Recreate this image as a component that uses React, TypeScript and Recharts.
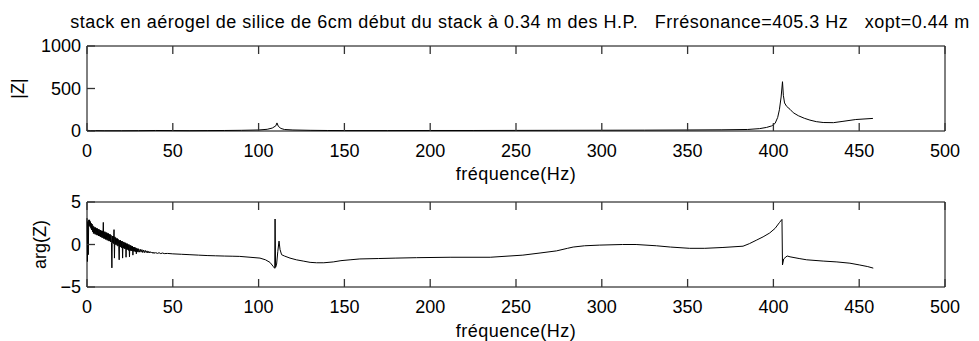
import React from "react";
import { LineChart, Line, XAxis, YAxis } from "recharts";

const titleText =
  "stack en aérogel de silice de 6cm début du stack à 0.34 m des H.P.   Frrésonance=405.3 Hz   xopt=0.44 m";
const xLabel = "fréquence(Hz)";
const magLabel = "|Z|";
const phaseLabel = "arg(Z)";

const freqTicks = [0, 50, 100, 150, 200, 250, 300, 350, 400, 450, 500];
const magTicks = [0, 500, 1000];
const phaseTicks = [-5, 0, 5];

const magFreq = [
  0, 2, 5, 10, 20, 30, 40, 50, 60, 70, 80, 90, 100, 105, 108, 110, 110.7, 111.5, 113, 115,
  120, 130, 140, 150, 175, 200, 225, 250, 275, 300, 325, 350, 370, 385, 392, 396, 399, 401,
  402.5, 403.5, 404.5, 405.3, 405.8, 406.5, 407.7, 409.7, 411.6, 414.5, 418, 421.3, 425, 429,
  435, 440, 448, 458,
];
const magValues = [
  8, 5, 4, 3, 3, 4, 6, 5, 4, 5, 6, 8, 12, 20, 35, 60, 95, 55, 30, 18,
  12, 8, 6, 5, 5, 6, 6, 7, 8, 9, 10, 12, 14, 18, 28, 42, 60, 90,
  160, 250, 400, 580, 420, 330, 290, 255, 215, 180, 150, 128, 110, 100,
  98, 112, 135, 148,
];

const phaseFreq = [
  0, 0.25, 0.5, 0.75, 1.0, 1.25, 1.5, 1.75, 2.0, 2.25, 2.5, 2.75, 3.0, 3.25, 3.5, 3.75,
  4.0, 4.25, 4.5, 4.75, 5.0, 5.25, 5.5, 5.75, 6.0, 6.25, 6.5, 6.75, 7.0, 7.25, 7.5, 7.75,
  8.0, 8.25, 8.5, 8.75, 9.0, 9.25, 9.5, 9.75, 10.0, 10.25, 10.5, 10.75, 11.0, 11.25, 11.5, 11.75,
  12.0, 12.25, 12.5, 12.75, 13.0, 13.25, 13.5, 13.75, 14.0, 14.25, 14.5, 14.75, 15.0, 15.25, 15.5, 15.75,
  16.0, 16.25, 16.5, 16.75, 17.0, 17.25, 17.5, 17.75, 18.0, 18.25, 18.5, 18.75, 19.0, 19.25, 19.5, 19.75,
  20.0, 20.25, 20.5, 20.75, 21.0, 21.25, 21.5, 21.75, 22.0, 22.25, 22.5, 22.75, 23.0, 23.25, 23.5, 23.75,
  24.0, 24.25, 24.5, 24.75, 25.0, 25.25, 25.5, 25.75, 26.0, 26.25, 26.5, 26.75, 27.0, 27.25, 27.5, 27.75,
  28.0, 28.25, 28.5, 28.75, 29.0, 29.25, 29.5, 29.75, 30.0, 30.5, 31.0, 31.5, 32.0, 32.5, 33.0, 33.5,
  34.0, 34.5, 35.0, 35.5, 36.0, 36.5, 37.0, 37.5, 38.0, 38.5, 39.0, 39.5, 40.0, 41, 42, 43,
  44, 45, 47, 50, 55, 60, 65, 70, 75, 80, 85, 89, 95, 100.8,
  104, 106.6, 108.6, 109.4, 109.6, 109.9, 110.5, 111.2, 111.9, 112.5, 113.4, 115, 118.3, 122,
  126, 130, 133.8, 138, 143.5, 148, 153.3, 159, 170, 180, 192, 211.6, 235, 254, 264, 273.6,
  280, 283.3, 290, 298.8, 312, 320, 331.8, 340, 351.2, 360, 370.6, 382.3, 386, 390, 394,
  397.8, 401, 403.6, 405, 405.3, 406, 406.8, 408, 409.7, 415, 419.4, 429, 437, 444.6, 450,
  455, 458.2,
];
const phaseValues = [
  3.1, -2.0, 2.7, -1.2, 2.9, 2.2, 2.9, 2.1, 2.7, 1.9, 2.5, 1.7, 2.4, 1.5, 2.2, 1.3,
  2.1, 1.3, 2.0, 1.2, 2.0, 1.2, 1.9, 1.1, 1.9, 1.1, 1.8, 1.0, 1.8, 1.0, 1.7, 0.9,
  1.7, 0.9, 1.6, 0.8, 1.6, 0.8, 2.6, 0.7, 1.5, 0.7, 1.5, 0.6, 1.4, 0.6, 1.4, 0.5,
  1.3, 0.5, 1.3, 0.4, 1.2, 0.4, 1.2, 0.3, 1.1, 0.2, -2.75, 1.0, 0.2, 1.0, 0.1, 1.75,
  -1.6, 0.9, 0.0, 0.8, 0.0, 0.7, -0.1, 0.7, -0.2, 0.6, -0.2, -1.8, 0.5, -0.3, 0.5, -0.3,
  0.4, -0.4, 0.4, -1.6, 0.3, -0.4, 0.3, -0.5, 0.2, -0.5, 0.2, -1.5, 0.1, -0.6, 0.1, -0.6,
  0.0, -0.7, 0.0, -1.45, -0.1, -0.7, -0.1, -0.75, -0.2, -0.75, -0.2, -1.25, -0.3, -0.8, -0.3, -0.8,
  -0.35, -0.85, -0.4, -1.1, -0.45, -0.85, -0.5, -0.9, -0.5, -0.9, -0.55, -0.9, -0.6, -0.95, -0.65, -0.95,
  -0.7, -0.95, -0.75, -1.0, -0.8, -1.0, -0.85, -1.0, -0.9, -1.05, -0.9, -1.05, -0.95, -1.05, -0.97, -1.07,
  -1.0, -1.07, -1.05, -1.1, -1.15, -1.2, -1.25, -1.3, -1.33, -1.36, -1.38, -1.4, -1.5, -1.6,
  -1.8, -2.1, -2.6, -2.8, 3.0, -2.7, -2.3, -0.8, 0.4, -0.6, -1.2, -1.35, -1.6, -1.8,
  -1.95, -2.1, -2.15, -2.15, -2.05, -1.9, -1.8, -1.7, -1.65, -1.6, -1.55, -1.5, -1.5, -1.25, -1.0, -0.75,
  -0.45, -0.3, -0.15, -0.07, 0.0, 0.0, -0.15, -0.3, -0.45, -0.45, -0.35, -0.2, 0.1, 0.5, 0.9,
  1.35, 1.9, 2.6, 2.95, -2.4, -1.7, -1.55, -1.35, -1.45, -1.65, -1.8, -1.95, -2.05, -2.2, -2.4,
  -2.6, -2.78,
];

const magData = magFreq.map((f, i) => ({ f, v: magValues[i] }));
const phaseData = phaseFreq.map((f, i) => ({ f, v: phaseValues[i] }));

const FONT = "'Liberation Sans', Arial, Helvetica, sans-serif";
const TICK_LEN = 8;
const X_MARGIN = 13;
const Y_MARGIN = 6;
const TICK_COLOR = "#333";
const TICK_WIDTH = 1.3;

function BottomTick(props: any) {
  const { x, y, payload } = props;
  const ay = y - X_MARGIN;
  return (
    <g>
      <path d={`M${x},${ay}V${ay - TICK_LEN}`} stroke={TICK_COLOR} strokeWidth={TICK_WIDTH} fill="none" />
      <text x={x} y={y} dy="0.72em" textAnchor="middle" fontSize={18} fontFamily={FONT} fill="#000">
        {payload.value}
      </text>
    </g>
  );
}

function TopTick(props: any) {
  const { x, y } = props;
  return <path d={`M${x},${y}V${y + TICK_LEN}`} stroke={TICK_COLOR} strokeWidth={TICK_WIDTH} fill="none" />;
}

function LeftTick(props: any) {
  const { x, y, payload } = props;
  const ax = x + Y_MARGIN;
  return (
    <g>
      <path d={`M${ax},${y}H${ax + TICK_LEN}`} stroke={TICK_COLOR} strokeWidth={TICK_WIDTH} fill="none" />
      <text x={x} y={y} dy="0.36em" textAnchor="end" fontSize={18} fontFamily={FONT} fill="#000">
        {payload.value < 0 ? "\u2212" + Math.abs(payload.value) : String(payload.value)}
      </text>
    </g>
  );
}

function RightTick(props: any) {
  const { x, y } = props;
  return <path d={`M${x},${y}H${x - TICK_LEN}`} stroke={TICK_COLOR} strokeWidth={TICK_WIDTH} fill="none" />;
}

const lineStyle = { stroke: "#000", strokeWidth: 1 };

function Panel(props: {
  data: { f: number; v: number }[];
  yDomain: [number, number];
  yTicks: number[];
  top: number;
  height: number;
  marginTop: number;
  marginBottom: number;
}) {
  const { data, yDomain, yTicks, top, height, marginTop, marginBottom } = props;
  return (
    <div style={{ position: "absolute", left: 0, top, width: 979, height }}>
      <LineChart
        width={979}
        height={height}
        data={data}
        margin={{ top: marginTop, right: 33, bottom: marginBottom, left: 27 }}
      >
        <Line
          xAxisId="b"
          yAxisId="l"
          type="linear"
          dataKey="v"
          stroke="#000"
          strokeWidth={1}
          dot={false}
          activeDot={false}
          isAnimationActive={false}
        />
        <XAxis
          xAxisId="b"
          type="number"
          dataKey="f"
          domain={[0, 500]}
          ticks={freqTicks}
          orientation="bottom"
          height={1}
          tickSize={0}
          tickMargin={X_MARGIN}
          axisLine={lineStyle}
          tickLine={false}
          tick={<BottomTick />}
          interval={0}
        />
        <XAxis
          xAxisId="t"
          type="number"
          dataKey="f"
          domain={[0, 500]}
          ticks={freqTicks}
          orientation="top"
          height={1}
          tickSize={0}
          tickMargin={0}
          axisLine={lineStyle}
          tickLine={false}
          tick={<TopTick />}
          interval={0}
        />
        <YAxis
          yAxisId="l"
          type="number"
          domain={yDomain}
          ticks={yTicks}
          orientation="left"
          width={60}
          tickSize={0}
          tickMargin={Y_MARGIN}
          axisLine={lineStyle}
          tickLine={false}
          tick={<LeftTick />}
          interval={0}
        />
        <YAxis
          yAxisId="r"
          type="number"
          domain={yDomain}
          ticks={yTicks}
          orientation="right"
          width={1}
          tickSize={0}
          tickMargin={0}
          axisLine={lineStyle}
          tickLine={false}
          tick={<RightTick />}
          interval={0}
        />
      </LineChart>
    </div>
  );
}

export default function App() {
  const textStyle = { fontFamily: FONT, fontSize: 18, fill: "#000" };
  return (
    <div style={{ position: "absolute", left: 0, top: 0, width: 979, height: 341, background: "#fff", overflow: "hidden" }}>
      <svg width={979} height={341} style={{ position: "absolute", left: 0, top: 0, pointerEvents: "none" }}>
        <text x={520} y={28} textAnchor="middle" style={{ ...textStyle, whiteSpace: "pre", letterSpacing: 0.5 }}>
          {titleText}
        </text>
        <text x={516} y={180} textAnchor="middle" style={{ ...textStyle, letterSpacing: 0.5 }}>
          {xLabel}
        </text>
        <text x={516} y={336.5} textAnchor="middle" style={{ ...textStyle, letterSpacing: 0.5 }}>
          {xLabel}
        </text>
        <text transform="translate(24,88.5) rotate(-90)" textAnchor="middle" style={textStyle}>
          {magLabel}
        </text>
        <text transform="translate(46,244.5) rotate(-90)" textAnchor="middle" style={textStyle}>
          {phaseLabel}
        </text>
      </svg>
      <Panel data={magData} yDomain={[0, 1000]} yTicks={magTicks} top={0} height={175} marginTop={45} marginBottom={43} />
      <Panel data={phaseData} yDomain={[-5, 5]} yTicks={phaseTicks} top={160} height={181} marginTop={41} marginBottom={53} />
    </div>
  );
}
